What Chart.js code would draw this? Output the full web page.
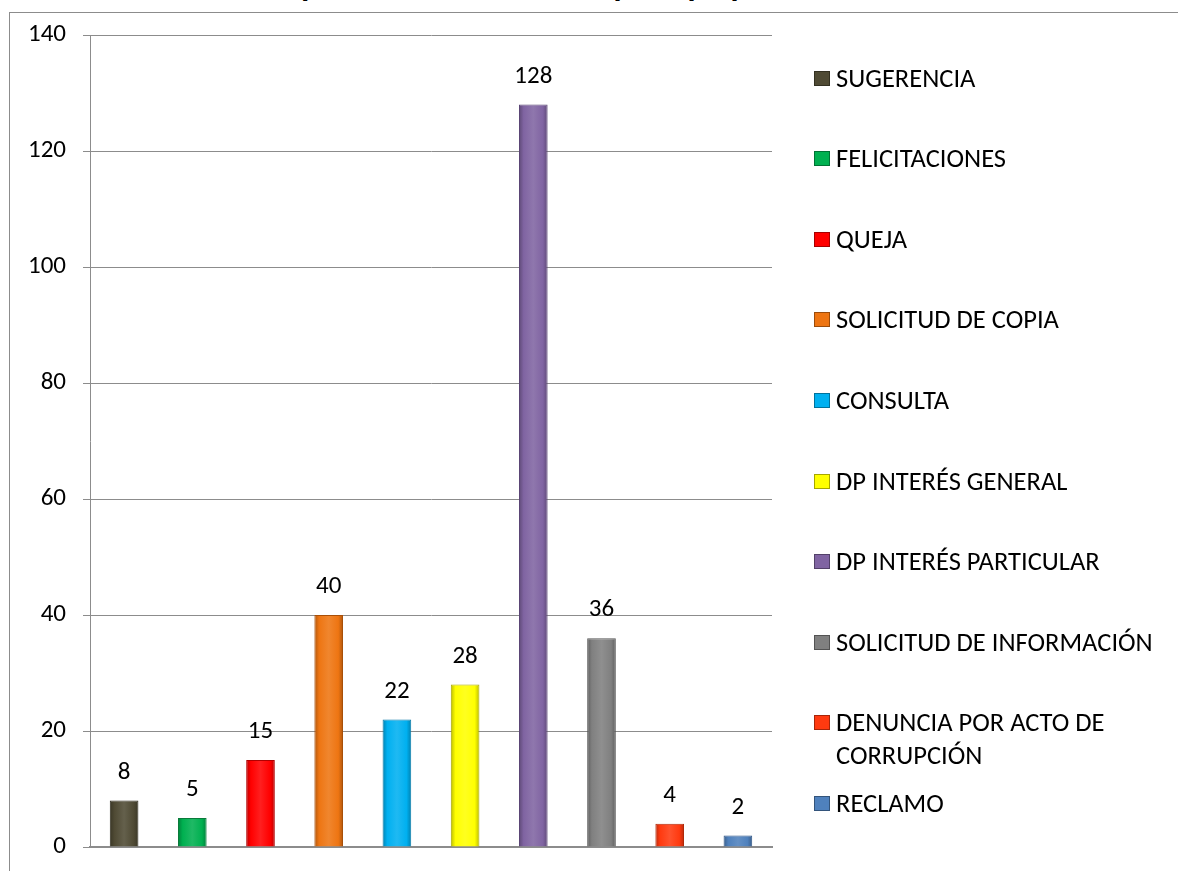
<!DOCTYPE html>
<html>
<head>
<meta charset="utf-8">
<script src="https://cdn.jsdelivr.net/npm/chart.js@4.4.1/dist/chart.umd.min.js"></script>
<style>
  html, body { margin: 0; padding: 0; background: #fff; }
  body { width: 1178px; height: 871px; position: relative; overflow: hidden; font-family: Carlito, Lato, sans-serif; }
  #frame { position: absolute; left: 9px; top: 12px; right: -2px; bottom: -2px; border-left: 1px solid #8c8c8c; border-top: 1px solid #8c8c8c; }
  #title { position: absolute; left: 0; right: 0; top: -31px; line-height: 32px; text-align: center; font-weight: bold; font-size: 33px; color: #000; white-space: nowrap; }
  #wrap { position: absolute; left: 0; top: 0; width: 1178px; height: 879px; }
  #legend { position: absolute; left: 814px; top: 0; }
  .item { position: absolute; left: 0; width: 360px; display: flex; align-items: flex-start; }
  .sw { width: 16px; height: 15px; margin-top: 9px; margin-right: 6px; flex: none; box-sizing: border-box; border: 1px solid rgba(0,0,0,0.35); }
  .txt { font-size: 26.5px; line-height: 33px; color: #000; width: 335px; }
</style>
</head>
<body>
<div id="title">Total de requerimientos recibidos por tipo primer semestre 2019</div>
<div id="frame"></div>
<div id="wrap"><canvas id="chart" width="1178" height="879"></canvas></div>
<div id="legend"></div>
<script>
const categories = [
  'SUGERENCIA',
  'FELICITACIONES',
  'QUEJA',
  'SOLICITUD DE COPIA',
  'CONSULTA',
  'DP INTERÉS GENERAL',
  'DP INTERÉS PARTICULAR',
  'SOLICITUD DE INFORMACIÓN',
  'DENUNCIA POR ACTO DE CORRUPCIÓN',
  'RECLAMO'
];
const values = [8, 5, 15, 40, 22, 28, 128, 36, 4, 2];
const colors = ['#4f4a34', '#00b050', '#ff0000', '#ee7512', '#00b0f0', '#ffff00', '#8064a2', '#808080', '#ff3a10', '#4f81bd'];
const borders = ['#2e2b1d', '#0a7a3a', '#b00000', '#a84f08', '#0a7aa8', '#a8a800', '#5a4575', '#555555', '#b02808', '#2f5586'];
const yTicks = [0, 20, 40, 60, 80, 100, 120, 140];

// mix a hex colour towards white (t > 0) or black (t < 0)
function shade(hex, t) {
  const n = parseInt(hex.slice(1), 16);
  let rgb = [(n >> 16) & 255, (n >> 8) & 255, n & 255];
  rgb = rgb.map(c => Math.round(t >= 0 ? c + (255 - c) * t : c * (1 + t)));
  return 'rgb(' + rgb.join(',') + ')';
}

// soft bevel: darker edges, lighter middle
function barFill(context) {
  const i = context.dataIndex;
  const chart = context.chart;
  const xs = chart.scales.x;
  if (!chart.chartArea || !xs || i === undefined) return colors[i];
  const cx = xs.getPixelForValue(i);
  const half = 15;
  const g = chart.ctx.createLinearGradient(cx - half, 0, cx + half, 0);
  g.addColorStop(0, shade(colors[i], -0.3));
  g.addColorStop(0.18, colors[i]);
  g.addColorStop(0.5, shade(colors[i], 0.12));
  g.addColorStop(0.82, colors[i]);
  g.addColorStop(1, shade(colors[i], -0.3));
  return g;
}

const valueLabels = {
  id: 'valueLabels',
  afterDatasetsDraw(chart) {
    const ctx = chart.ctx;
    const meta = chart.getDatasetMeta(0);
    ctx.save();
    ctx.font = '25px Carlito, Lato, sans-serif';
    ctx.fillStyle = '#000';
    ctx.textAlign = 'center';
    ctx.textBaseline = 'middle';
    meta.data.forEach((bar, i) => {
      ctx.fillText(String(values[i]), bar.x, bar.y - 28);
    });
    ctx.restore();
  }
};

const chart = new Chart(document.getElementById('chart'), {
  type: 'bar',
  data: {
    labels: categories,
    datasets: [{
      data: values,
      backgroundColor: barFill,
      borderColor: borders,
      borderWidth: 1,
      barPercentage: 0.42,
      categoryPercentage: 1
    }]
  },
  options: {
    responsive: false,
    animation: false,
    layout: { padding: { left: 0, top: 35, right: 406, bottom: 16 } },
    plugins: { legend: { display: false }, tooltip: { enabled: false } },
    scales: {
      x: {
        afterFit(scale) { scale.height = 0; },
        grid: { display: false, drawTicks: false },
        border: { color: '#8c8c8c', width: 2 },
        ticks: { display: false }
      },
      y: {
        min: 0,
        max: 140,
        afterFit(scale) { scale.width = 90; },
        afterBuildTicks(scale) { scale.ticks = yTicks.map(v => ({ value: v })); },
        grid: { color: '#8c8c8c', lineWidth: 1, tickLength: 7 },
        border: { color: '#8c8c8c', width: 1 },
        ticks: { color: '#000', padding: 17, font: { size: 25, family: 'Carlito, Lato, sans-serif' } }
      }
    }
  },
  plugins: [valueLabels]
});

// legend built from the same arrays
const legend = document.getElementById('legend');
categories.forEach((name, i) => {
  const item = document.createElement('div');
  item.className = 'item';
  item.style.top = (78 + i * 80.6 - 16.5) + 'px';
  const sw = document.createElement('div');
  sw.className = 'sw';
  sw.style.background = colors[i];
  const txt = document.createElement('div');
  txt.className = 'txt';
  txt.textContent = name;
  item.appendChild(sw);
  item.appendChild(txt);
  legend.appendChild(item);
});
</script>
</body>
</html>
